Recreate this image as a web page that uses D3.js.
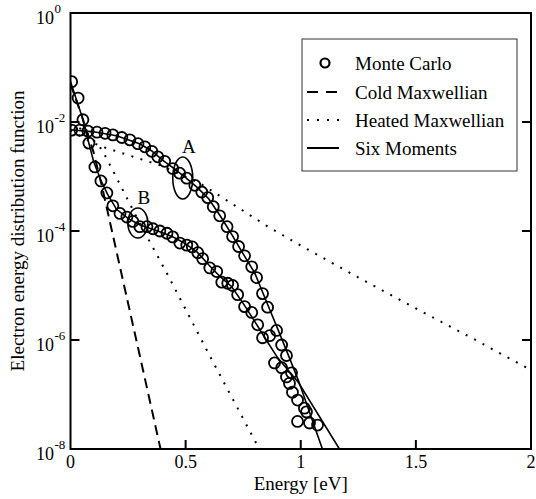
<!DOCTYPE html>
<html>
<head>
<meta charset="utf-8">
<script src="https://cdn.jsdelivr.net/npm/d3@7"></script>
<style>
    body { margin: 0; background: #fff; }
    text { font-family: "Liberation Serif", "Times New Roman", serif; fill: #000; }
</style>
</head>
<body>
<svg id="chart" width="536" height="499"></svg>
<script>
// [energy eV, eedf]
var monteCarloA = [
    [0.005, 7.1e-3], [0.041, 7.1e-3], [0.076, 6.8e-3], [0.115, 6.5e-3], [0.150, 6.2e-3],
    [0.184, 5.8e-3], [0.223, 5.2e-3], [0.258, 4.7e-3], [0.293, 4.0e-3], [0.323, 3.5e-3],
    [0.353, 2.9e-3], [0.379, 2.3e-3], [0.409, 1.9e-3], [0.444, 1.4e-3], [0.474, 1.15e-3],
    [0.505, 9.3e-4], [0.540, 6.9e-4], [0.570, 5.2e-4], [0.596, 4.1e-4], [0.620, 2.8e-4],
    [0.648, 1.9e-4], [0.680, 1.2e-4], [0.704, 7.9e-5], [0.730, 5.2e-5], [0.756, 3.5e-5],
    [0.787, 2.2e-5], [0.808, 1.4e-5], [0.834, 7.1e-6], [0.856, 4.0e-6], [0.895, 1.5e-6],
    [0.917, 8.1e-7], [0.938, 5.2e-7], [0.960, 2.5e-7], [1.016, 5.6e-8]
];
var monteCarloB = [
    [0.005, 5.5e-2], [0.033, 2.75e-2], [0.054, 1.1e-2], [0.080, 4.1e-3], [0.106, 1.5e-3],
    [0.132, 8.3e-4], [0.158, 5.0e-4], [0.184, 2.9e-4], [0.215, 2.1e-4], [0.245, 1.8e-4],
    [0.271, 1.5e-4], [0.301, 1.2e-4], [0.332, 1.2e-4], [0.358, 1.1e-4], [0.388, 1.0e-4],
    [0.419, 9.1e-5], [0.444, 7.8e-5], [0.475, 6.0e-5], [0.505, 5.5e-5], [0.529, 5.1e-5],
    [0.553, 4.0e-5], [0.574, 3.1e-5], [0.605, 2.1e-5], [0.635, 1.8e-5], [0.657, 1.15e-5],
    [0.683, 1.1e-5], [0.704, 1.0e-5], [0.726, 6.8e-6], [0.756, 4.1e-6], [0.787, 3.2e-6],
    [0.813, 1.9e-6], [0.834, 1.1e-6], [0.865, 1.2e-6], [0.886, 3.8e-7], [0.917, 3.1e-7],
    [0.938, 2.1e-7], [0.951, 1.6e-7], [0.964, 1.1e-7], [0.986, 7.9e-8], [0.986, 3.2e-8],
    [1.025, 4.8e-8], [1.038, 3.0e-8], [1.073, 2.75e-8]
];
var sixMomentsA = [
    [0, 7.2e-3], [0.1, 6.6e-3], [0.2, 5.6e-3], [0.3, 4.0e-3], [0.35, 3.0e-3], [0.4, 2.0e-3],
    [0.45, 1.4e-3], [0.5, 9.5e-4], [0.55, 6.3e-4], [0.6, 3.9e-4], [0.65, 1.9e-4], [0.7, 8.7e-5],
    [0.75, 3.8e-5], [0.8, 1.7e-5], [0.85, 5.2e-6], [0.9, 1.6e-6], [0.95, 4.8e-7], [0.99, 1.8e-7],
    [1.094, 1e-8]
];
var sixMomentsB = [
    [0, 5.5e-2], [0.05, 1.26e-2], [0.1, 1.9e-3], [0.13, 8.9e-4], [0.16, 4.8e-4], [0.2, 2.5e-4],
    [0.25, 1.7e-4], [0.3, 1.3e-4], [0.35, 1.1e-4], [0.4, 9.3e-5], [0.45, 7.6e-5], [0.5, 5.8e-5],
    [0.55, 4.1e-5], [0.6, 2.4e-5], [0.65, 1.45e-5], [0.7, 9.5e-6], [0.75, 4.7e-6], [0.8, 2.2e-6],
    [0.85, 1.0e-6], [0.9, 4.7e-7], [0.99, 1.66e-7], [1.168, 1e-8]
];
var heatedA = [
    [0, 7.1e-3], [0.06, 5.0e-3], [0.13, 3.6e-3], [0.26, 2.4e-3], [0.39, 1.6e-3], [0.56, 7.6e-4],
    [0.70, 3.2e-4], [0.85, 1.26e-4], [1.0, 5.4e-5], [1.27, 1.26e-5], [1.5, 3.8e-6],
    [1.75, 1.05e-6], [2.0, 2.8e-7]
];
var heatedB = [
    [0, 8.9e-3], [0.06, 7.1e-3], [0.137, 3.1e-3], [0.2, 9.5e-4], [0.3, 1.4e-4],
    [0.418, 1.7e-5], [0.6, 5.6e-7], [0.82, 1e-8]
];
var coldMaxwellian = [
    [0, 5.0e-2], [0.05, 1.26e-2], [0.1, 2.8e-3], [0.137, 6.5e-4], [0.18, 1e-4],
    [0.2275, 1.26e-5], [0.3, 5.4e-7], [0.391, 1e-8]
];
var marks = [
    { label: "A", ellipse: [0.4875, 9.4e-4], text: [0.514, 3.6e-3] },
    { label: "B", ellipse: [0.2925, 1.4e-4], text: [0.318, 4.2e-4] }
];
var xTicks = [0, 0.5, 1, 1.5, 2];
var xTickLabels = ["0", "0.5", "1", "1.5", "2"];
var yTickExps = [0, -2, -4, -6, -8];
var legendNames = ["Monte Carlo", "Cold Maxwellian", "Heated Maxwellian", "Six Moments"];

var svg = d3.select('#chart');
var plotL = 70.5, plotR = 531, plotT = 13, plotB = 449;

var x = d3.scaleLinear().domain([0, 2]).range([plotL, plotR]);
var y = d3.scaleLog().domain([1, 1e-8]).range([plotT, plotB]);

svg.append('rect').attr('width', 536).attr('height', 499).attr('fill', '#fff');

svg.append('clipPath').attr('id', 'plotClip')
    .append('rect')
    .attr('x', plotL).attr('y', plotT)
    .attr('width', plotR - plotL).attr('height', plotB - plotT);

var plot = svg.append('g').attr('clip-path', 'url(#plotClip)');

var line = d3.line()
    .x(function (d) { return x(d[0]); })
    .y(function (d) { return y(d[1]); });

function curve(data, dash, width) {
    plot.append('path')
        .datum(data)
        .attr('d', line)
        .attr('fill', 'none')
        .attr('stroke', '#000')
        .attr('stroke-width', width)
        .attr('stroke-dasharray', dash);
}

curve(coldMaxwellian, '10,6', 2);
curve(heatedA, '2,7.5', 2);
curve(heatedB, '2,7.5', 2);
curve(sixMomentsA, null, 1.6);
curve(sixMomentsB, null, 1.6);

function circles(data) {
    plot.append('g').selectAll('circle')
        .data(data)
        .enter().append('circle')
        .attr('cx', function (d) { return x(d[0]); })
        .attr('cy', function (d) { return y(d[1]); })
        .attr('r', 5.5)
        .attr('fill', 'none')
        .attr('stroke', '#000')
        .attr('stroke-width', 1.8);
}
circles(monteCarloA);
circles(monteCarloB);

// A / B annotations
marks.forEach(function (m, i) {
    svg.append('ellipse')
        .attr('cx', x(m.ellipse[0]))
        .attr('cy', y(m.ellipse[1]))
        .attr('rx', 10)
        .attr('ry', i == 0 ? 21 : 15)
        .attr('fill', 'none')
        .attr('stroke', '#000')
        .attr('stroke-width', 1.6);
    svg.append('text')
        .attr('x', x(m.text[0]))
        .attr('y', y(m.text[1]))
        .attr('dy', '0.35em')
        .attr('text-anchor', 'middle')
        .style('font-size', '19px')
        .text(m.label);
});

// frame
svg.append('rect')
    .attr('x', plotL).attr('y', plotT)
    .attr('width', plotR - plotL).attr('height', plotB - plotT)
    .attr('fill', 'none')
    .attr('stroke', '#000')
    .attr('stroke-width', 2);

var ticks = svg.append('g').attr('stroke', '#000').attr('stroke-width', 2);
xTicks.slice(1, -1).forEach(function (t) {
    ticks.append('line').attr('x1', x(t)).attr('x2', x(t)).attr('y1', plotB).attr('y2', plotB - 9);
});
yTickExps.slice(1, -1).forEach(function (e) {
    var v = Math.pow(10, e);
    ticks.append('line').attr('x1', plotL).attr('x2', plotL + 9).attr('y1', y(v)).attr('y2', y(v));
    ticks.append('line').attr('x1', plotR).attr('x2', plotR - 9).attr('y1', y(v)).attr('y2', y(v));
});

xTicks.forEach(function (t, i) {
    svg.append('text')
        .attr('x', x(t))
        .attr('y', plotB + 19)
        .attr('text-anchor', 'middle')
        .style('font-size', '18px')
        .text(xTickLabels[i]);
});

yTickExps.forEach(function (e) {
    var ty = y(Math.pow(10, e));
    svg.append('text')
        .attr('x', 54)
        .attr('y', ty + 11)
        .attr('text-anchor', 'end')
        .style('font-size', '18px')
        .text('10');
    svg.append('text')
        .attr('x', 54.5)
        .attr('y', ty + 0)
        .attr('text-anchor', 'start')
        .style('font-size', '13px')
        .text(e == 0 ? '0' : String(e));
});

svg.append('text')
    .attr('x', (plotL + plotR) / 2)
    .attr('y', 490)
    .attr('text-anchor', 'middle')
    .style('font-size', '19px')
    .text('Energy [eV]');

svg.append('text')
    .attr('transform', 'translate(24,' + ((plotT + plotB) / 2) + ')rotate(-90)')
    .attr('text-anchor', 'middle')
    .style('font-size', '19px')
    .text('Electron energy distribution function');

// legend
var legend = svg.append('g');
legend.append('rect')
    .attr('x', 302).attr('y', 39)
    .attr('width', 215).attr('height', 132)
    .attr('fill', '#fff')
    .attr('stroke', '#333')
    .attr('stroke-width', 1);

var rowY = [63, 92, 120, 148];
legendNames.forEach(function (name, i) {
    var g = legend.append('g');
    if (i == 0) {
        g.append('circle').attr('cx', 325).attr('cy', rowY[i]).attr('r', 4.5)
            .attr('fill', 'none').attr('stroke', '#000').attr('stroke-width', 2.2);
    } else {
        g.append('line')
            .attr('x1', 307).attr('x2', 339)
            .attr('y1', rowY[i]).attr('y2', rowY[i])
            .attr('stroke', '#000')
            .attr('stroke-width', 2)
            .attr('stroke-dasharray', i == 1 ? '11,8' : (i == 2 ? '2,8' : null));
    }
    g.append('text')
        .attr('x', 355)
        .attr('y', rowY[i])
        .attr('dy', '0.35em')
        .style('font-size', '19px')
        .text(name);
});
</script>
</body>
</html>
